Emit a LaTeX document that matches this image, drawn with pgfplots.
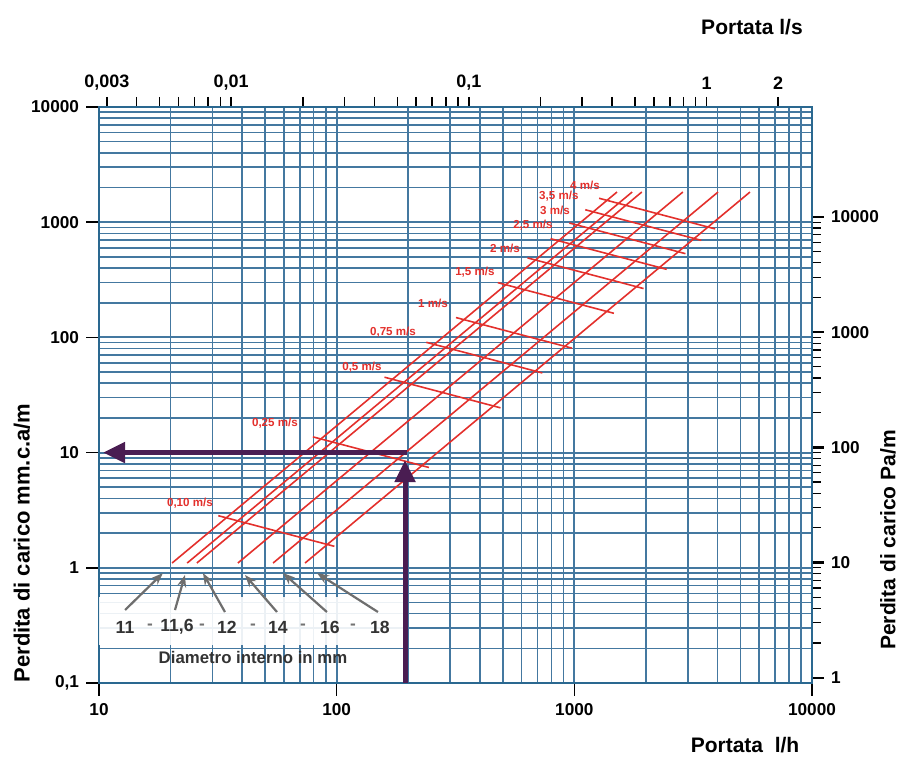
\documentclass[border=0pt]{standalone}
\usepackage{fontspec}
\setmainfont{Liberation Sans}
\usepackage{pgfplots}
\pgfplotsset{compat=1.18}
\usetikzlibrary{arrows.meta}

\definecolor{gridblue}{HTML}{4478A0}
\definecolor{frameblue}{HTML}{2A6890}
\definecolor{redline}{HTML}{E3302C}
\definecolor{arrowpurple}{HTML}{4A1D52}
\definecolor{arrowgray}{HTML}{6E6E6E}

\pgfplotsset{
  chartbase/.style={width=356.5pt, height=288pt, scale only axis,
    at={(0pt,0pt)}, anchor=south west},
}
\tikzset{
  ticklab/.style={font=\bfseries\fontsize{8.6}{10}\selectfont},
  vlab/.style={text=redline, font=\bfseries\fontsize{5.8}{6}\selectfont, inner sep=0pt},
  dlab/.style={text=black!80, font=\bfseries\fontsize{8.8}{10}\selectfont, inner sep=0pt},
  dashlab/.style={text=black!55, font=\bfseries\fontsize{8.6}{10}\selectfont, inner sep=0pt},
  diamline/.style={redline, line width=0.8pt},
  veloline/.style={redline, line width=0.8pt},
  darrow/.style={arrowgray, line width=1.1pt, -{Stealth[length=6pt,width=4.5pt]}},
}

\begin{document}
\begin{tikzpicture}
\useasboundingbox (-49.5pt,-36.5pt) rectangle (399pt,341.5pt);

% main axis: portata l/h vs perdita mm c.a./m
\begin{axis}[
    chartbase,
    xmode=log, ymode=log,
    xmin=10, xmax=10000,
    ymin=0.1, ymax=10000,
    axis line style={frameblue, line width=1.3pt},
    xtick={10,100,1000,10000},
    xticklabels={10,100,1000,10000},
    ytick={0.1,1,10,100,1000,10000},
    yticklabels={0{,}1,1,10,100,1000,10000},
    xtick pos=left, ytick pos=left,
    tick align=outside,
    major tick length=6.5pt,
    minor tick length=0pt,
    major tick style={black, line width=0.8pt},
    grid=both,
    major grid style={gridblue, line width=1.0pt},
    minor grid style={gridblue, line width=0.8pt},
    tick label style={ticklab},
]

% white box behind the diameter labels
\fill[white, opacity=0.9] (axis cs:10,0.215) rectangle (axis cs:190,0.56);

% diameter lines 11, 11.6, 12, 14, 16, 18 mm
\addplot[diamline] coordinates {(20.3,1.1) (1512,1828)};
\addplot[diamline] coordinates {(23.5,1.1) (1751,1828)};
\addplot[diamline] coordinates {(25.8,1.1) (1922,1828)};
\addplot[diamline] coordinates {(38.4,1.1) (2861,1828)};
\addplot[diamline] coordinates {(54.0,1.1) (4023,1828)};
\addplot[diamline] coordinates {(73.6,1.1) (5483,1828)};

% velocity lines
\addplot[veloline] coordinates {(31.77,2.834) (97.82,1.536)};   % 0.10
\addplot[veloline] coordinates {(79.43,13.70) (244.6,7.428)};   % 0.25
\addplot[veloline] coordinates {(158.9,45.14) (489.1,24.47)};   % 0.5
\addplot[veloline] coordinates {(238.3,90.66) (733.7,49.14)};   % 0.75
\addplot[veloline] coordinates {(317.7,148.7) (978.2,80.6)};    % 1
\addplot[veloline] coordinates {(476.6,298.7) (1467,161.9)};    % 1.5
\addplot[veloline] coordinates {(635.4,489.9) (1956,265.5)};    % 2
\addplot[veloline] coordinates {(794.3,719.1) (2446,389.8)};    % 2.5
\addplot[veloline] coordinates {(953.1,983.9) (2935,533.3)};    % 3
\addplot[veloline] coordinates {(1112,1282.7) (3424,695.3)};    % 3.5
\addplot[veloline] coordinates {(1271,1613.7) (3913,874.7)};    % 4

\node[vlab] at (axis cs:1108,2103) {4 m/s};
\node[vlab] at (axis cs:861,1688) {3,5 m/s};
\node[vlab] at (axis cs:829,1276) {3 m/s};
\node[vlab] at (axis cs:669.6,945.6) {2,5 m/s};
\node[vlab] at (axis cs:510.5,597) {2 m/s};
\node[vlab] at (axis cs:381.8,369.6) {1,5 m/s};
\node[vlab] at (axis cs:254.2,198.9) {1 m/s};
\node[vlab] at (axis cs:172.6,111.4) {0,75 m/s};
\node[vlab] at (axis cs:127.8,55.35) {0,5 m/s};
\node[vlab] at (axis cs:55.0,18.07) {0,25 m/s};
\node[vlab] at (axis cs:24.14,3.65) {0,10 m/s};

% diameter labels and pointers
\node[dlab] at (axis cs:12.87,0.3062) {11};
\node[dlab] at (axis cs:21.29,0.3062) {11,6};
\node[dlab] at (axis cs:34.55,0.3062) {12};
\node[dlab] at (axis cs:56.6,0.3062) {14};
\node[dlab] at (axis cs:93.7,0.3062) {16};
\node[dlab] at (axis cs:152.1,0.3062) {18};
\node[dashlab] at (axis cs:16.39,0.3062) {-};
\node[dashlab] at (axis cs:27.13,0.3062) {-};
\node[dashlab] at (axis cs:44.46,0.3062) {-};
\node[dashlab] at (axis cs:72.15,0.3062) {-};
\node[dashlab] at (axis cs:117.1,0.3062) {-};
\node[dlab, font=\bfseries\fontsize{8.4}{10}\selectfont] at (axis cs:44.46,0.1681) {Diametro interno in mm};

\draw[darrow] (axis cs:12.87,0.4302) -- (axis cs:18.58,0.901);
\draw[darrow] (axis cs:20.88,0.4302) -- (axis cs:23.0,0.866);
\draw[darrow] (axis cs:33.89,0.4133) -- (axis cs:27.38,0.901);
\draw[darrow] (axis cs:56.09,0.4133) -- (axis cs:41.14,0.866);
\draw[darrow] (axis cs:91.0,0.4133) -- (axis cs:59.44,0.901);
\draw[darrow] (axis cs:149.2,0.4133) -- (axis cs:82.63,0.901);

% worked example
\draw[arrowpurple, line width=2.5pt, -{Triangle[length=11pt,width=10pt]}]
  (axis cs:194,0.1) -- (axis cs:194,8.6);
\draw[arrowpurple, line width=2.5pt, -{Triangle[length=11pt,width=10pt]}]
  (axis cs:197,10) -- (axis cs:10.4,10);
\end{axis}

% top axis: portata l/s
\begin{axis}[
    chartbase,
    xmode=log,
    xmin=0.0027778, xmax=2.7778,
    ymin=0, ymax=1,
    hide y axis,
    axis x line*=top,
    axis line style={frameblue, line width=1.3pt},
    xtick={0.003,0.01,0.1,1,2},
    xticklabels={0{,}003,0{,}01,0{,}1,1,2},
    minor xtick={0.004,0.005,0.006,0.007,0.008,0.009,
                 0.02,0.03,0.04,0.05,0.06,0.07,0.08,0.09,
                 0.2,0.3,0.4,0.5,0.6,0.7,0.8,0.9},
    tick align=outside,
    major tick length=5pt,
    minor tick length=5pt,
    tick style={black, line width=0.8pt},
    tick label style={ticklab, font=\bfseries\fontsize{9}{10}\selectfont},
]
\end{axis}

% right axis: Pa/m
\begin{axis}[
    chartbase,
    xmode=log, ymode=log,
    xmin=10, xmax=10000,
    ymin=0.9, ymax=90000,
    hide x axis,
    axis y line*=right,
    axis line style={frameblue, line width=1.3pt},
    ytick={1,10,100,1000,10000},
    yticklabels={1,10,100,1000,10000},
    tick align=outside,
    major tick length=6pt,
    minor tick length=4.5pt,
    major tick style={black, line width=1.2pt},
    minor tick style={black, line width=0.6pt},
    tick label style={ticklab},
]
\end{axis}

\node[font=\bfseries\fontsize{10.5}{12}\selectfont] at (326.5pt,328pt) {Portata l/s};
\node[font=\bfseries\fontsize{10.5}{12}\selectfont] at (323pt,-31pt) {Portata\ \ l/h};
\node[rotate=90, font=\bfseries\fontsize{11}{12}\selectfont] at (-38.5pt,70pt) {Perdita di carico mm.c.a/m};
\node[rotate=90, font=\bfseries\fontsize{10.5}{12}\selectfont] at (394.5pt,71.5pt) {Perdita di carico Pa/m};
\end{tikzpicture}
\end{document}
